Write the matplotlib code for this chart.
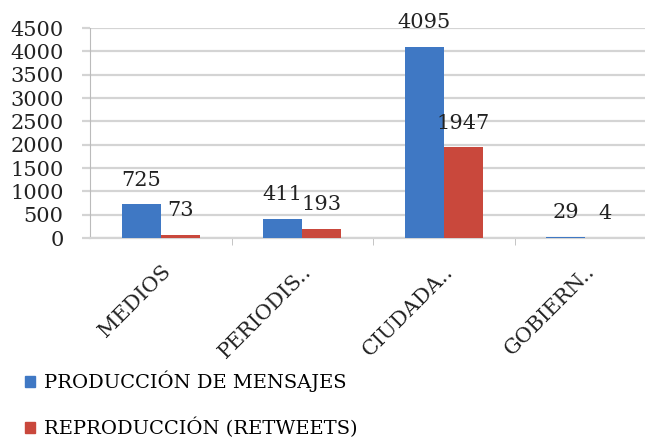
import matplotlib
matplotlib.use("Agg")
import matplotlib.pyplot as plt
from matplotlib.patches import Patch
from matplotlib.ticker import FixedLocator
import numpy as np

plt.rcParams['font.family'] = 'serif'
plt.rcParams['font.serif'] = ['DejaVu Serif']
FUENTE = 'DejaVu Serif'

# datos
categorias = ["MEDIOS", "PERIODIS..", "CIUDADA..", "GOBIERN.."]
produccion = [725, 411, 4095, 29]
reproduccion = [73, 193, 1947, 4]
series_nombres = ["PRODUCCIÓN DE MENSAJES", "REPRODUCCIÓN (RETWEETS)"]
y_ticks = list(range(0, 4501, 500))

AZUL = "#3f78c4"
ROJO = "#c9483c"
GRIS = "#d4d4d4"

fig = plt.figure(figsize=(6.45, 4.41), dpi=100)
ax = fig.add_axes([90 / 645, 1 - 238 / 441, 555 / 645, 210 / 441])

x = np.arange(len(categorias))
w = 0.276
b1 = ax.bar(x - w / 2, produccion, w, color=AZUL, zorder=3)
b2 = ax.bar(x + w / 2, reproduccion, w, color=ROJO, zorder=3)

# etiquetas de valor encima de cada barra
for barras in (b1, b2):
    for r in barras:
        ax.annotate(f"{int(r.get_height())}",
                    (r.get_x() + r.get_width() / 2, r.get_height()),
                    xytext=(0, 24), textcoords="offset pixels",
                    ha="center", va="center", fontsize=15, color="#222222",
                    family=FUENTE)

ax.set_xlim(-0.5, -0.5 + 555 / 141.5)
ax.set_ylim(0, 4500)
ax.set_yticks(y_ticks)
ax.set_yticklabels([str(v) for v in y_ticks], fontsize=15, color="#222222", family=FUENTE)
ax.yaxis.grid(True, color=GRIS, lw=1.6, zorder=0)
ax.tick_params(axis="y", length=6, width=1.6, color=GRIS, pad=13)

ax.set_xticks(x)
ax.set_xticklabels(categorias, rotation=45, ha="right", rotation_mode="anchor",
                   fontsize=15, color="#222222", family=FUENTE)
ax.tick_params(axis="x", length=0, pad=17)
ax.xaxis.set_minor_locator(FixedLocator(x[:-1] + 0.5))
ax.tick_params(axis="x", which="minor", length=5, color="#bbbbbb")

for s in ("top", "right"):
    ax.spines[s].set_visible(False)
ax.spines["left"].set_color("#bbbbbb")
ax.spines["bottom"].set_color(GRIS)
ax.spines["bottom"].set_linewidth(1.6)

handles = [Patch(color=AZUL), Patch(color=ROJO)]
fig.legend(handles, series_nombres, loc="upper left", bbox_to_anchor=(25 / 645, 1 - 371 / 441),
           frameon=False, prop={"family": FUENTE, "size": 14},
           handlelength=0.5, handleheight=0.5,
           handletextpad=0.5, labelspacing=1.3, borderpad=0, borderaxespad=0)

fig.savefig("out.png", dpi=100)
